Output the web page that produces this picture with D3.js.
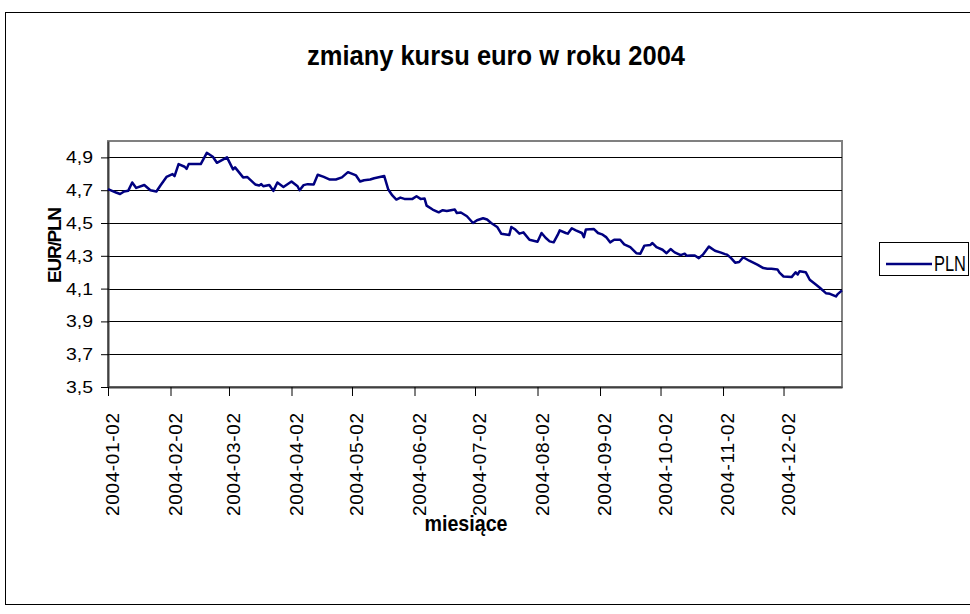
<!DOCTYPE html>
<html>
<head>
<meta charset="utf-8">
<script src="https://cdn.jsdelivr.net/npm/d3@7"></script>
<style>
  body { margin: 0; background: #fff; }
  text { font-family: "Liberation Sans", Arial, sans-serif; }
</style>
</head>
<body>
<div id="line_chart"></div>
<script>
const height = 614,
    width = 970,
    margin = ({ top: 141, right: 128, bottom: 227, left: 108 });

// kurs EUR/PLN
const dates = [
  "2004-01-02","2004-01-04","2004-01-06","2004-01-08","2004-01-10","2004-01-12","2004-01-14","2004-01-16",
  "2004-01-20","2004-01-23","2004-01-26","2004-01-28","2004-01-31","2004-02-03","2004-02-04","2004-02-06",
  "2004-02-09","2004-02-10","2004-02-11","2004-02-17","2004-02-20","2004-02-23","2004-02-25","2004-03-01",
  "2004-03-04","2004-03-05","2004-03-09","2004-03-11","2004-03-15","2004-03-17","2004-03-18","2004-03-19",
  "2004-03-22","2004-03-24","2004-03-26","2004-03-29","2004-04-02","2004-04-05","2004-04-06","2004-04-08",
  "2004-04-10","2004-04-13","2004-04-15","2004-04-18","2004-04-21","2004-04-24","2004-04-27","2004-04-30",
  "2004-05-04","2004-05-06","2004-05-08","2004-05-11","2004-05-13","2004-05-18","2004-05-20","2004-05-22",
  "2004-05-24","2004-05-26","2004-05-28","2004-06-01","2004-06-03","2004-06-05","2004-06-07","2004-06-08",
  "2004-06-11","2004-06-14","2004-06-16","2004-06-18","2004-06-22","2004-06-23","2004-06-25","2004-06-28",
  "2004-07-01","2004-07-03","2004-07-06","2004-07-08","2004-07-10","2004-07-13","2004-07-15","2004-07-19",
  "2004-07-20","2004-07-22","2004-07-24","2004-07-26","2004-07-29","2004-08-02","2004-08-04","2004-08-06",
  "2004-08-08","2004-08-10","2004-08-12","2004-08-13","2004-08-16","2004-08-17","2004-08-19","2004-08-21",
  "2004-08-24","2004-08-25","2004-08-26","2004-08-30","2004-09-01","2004-09-03","2004-09-05","2004-09-07",
  "2004-09-09","2004-09-12","2004-09-14","2004-09-17","2004-09-20","2004-09-22","2004-09-24","2004-09-27",
  "2004-09-28","2004-09-30","2004-10-03","2004-10-05","2004-10-07","2004-10-09","2004-10-12","2004-10-14",
  "2004-10-15","2004-10-17","2004-10-19","2004-10-21","2004-10-23","2004-10-26","2004-10-29","2004-11-01",
  "2004-11-03","2004-11-04","2004-11-06","2004-11-08","2004-11-10","2004-11-12","2004-11-15","2004-11-17",
  "2004-11-19","2004-11-22","2004-11-24","2004-11-26","2004-11-29","2004-11-30","2004-12-02","2004-12-06",
  "2004-12-08","2004-12-09","2004-12-10","2004-12-13","2004-12-15","2004-12-18","2004-12-20","2004-12-23",
  "2004-12-25","2004-12-28","2004-12-29","2004-12-31"
];
const pln = [
  4.706,4.696,4.686,4.677,4.692,4.696,4.747,4.714,
  4.732,4.700,4.692,4.729,4.781,4.798,4.786,4.859,
  4.843,4.830,4.859,4.859,4.928,4.904,4.867,4.900,
  4.827,4.839,4.778,4.781,4.735,4.729,4.737,4.724,
  4.732,4.696,4.747,4.720,4.753,4.724,4.700,4.731,
  4.737,4.735,4.794,4.781,4.765,4.765,4.778,4.810,
  4.790,4.753,4.761,4.765,4.773,4.786,4.704,4.668,
  4.643,4.655,4.647,4.647,4.663,4.647,4.649,4.606,
  4.582,4.565,4.578,4.573,4.582,4.561,4.564,4.541,
  4.500,4.517,4.529,4.521,4.500,4.476,4.435,4.427,
  4.476,4.460,4.435,4.443,4.398,4.386,4.439,4.410,
  4.388,4.382,4.427,4.455,4.439,4.435,4.468,4.455,
  4.439,4.414,4.461,4.463,4.439,4.431,4.414,4.382,
  4.398,4.398,4.370,4.353,4.316,4.313,4.362,4.366,
  4.378,4.353,4.337,4.316,4.341,4.321,4.304,4.313,
  4.300,4.302,4.302,4.286,4.307,4.356,4.331,4.319,
  4.310,4.307,4.286,4.258,4.262,4.291,4.270,4.258,
  4.246,4.225,4.221,4.221,4.217,4.197,4.174,4.170,
  4.200,4.186,4.206,4.200,4.154,4.125,4.105,4.072,
  4.068,4.052,4.068,4.089
];
const xTicks = ["2004-01-02","2004-02-02","2004-03-02","2004-04-02","2004-05-02","2004-06-02",
  "2004-07-02","2004-08-02","2004-09-02","2004-10-02","2004-11-02","2004-12-02"];
const yTicks = [3.5, 3.7, 3.9, 4.1, 4.3, 4.5, 4.7, 4.9];

const parse = d3.utcParse("%Y-%m-%d");
const data = dates.map((d, i) => ({ date: parse(d), value: pln[i] }));

const svg = d3.select("#line_chart")
    .append("svg")
    .attr("width", width)
    .attr("height", height);

// ramka calego wykresu
svg.append("rect")
    .attr("x", 5.5).attr("y", 12.5)
    .attr("width", 980).attr("height", 592)
    .attr("fill", "#fff")
    .attr("stroke", "#000");

let x = d3.scaleUtc()
    .domain([parse("2004-01-02"), parse("2004-12-31")])
    .range([margin.left, width - margin.right]);

let y = d3.scaleLinear()
    .domain([3.5, 5.0])
    .range([height - margin.bottom, margin.top]);

// obszar kreslenia
svg.append("rect")
    .attr("x", margin.left).attr("y", margin.top)
    .attr("width", width - margin.right - margin.left)
    .attr("height", height - margin.bottom - margin.top)
    .attr("fill", "#fff")
    .attr("stroke", "#808080")
    .attr("stroke-width", 2);

// linie siatki
svg.append("g")
    .selectAll("line")
    .data(yTicks.slice(1))
    .join("line")
    .attr("x1", margin.left).attr("x2", width - margin.right)
    .attr("y1", d => Math.round(y(d)) + 0.5).attr("y2", d => Math.round(y(d)) + 0.5)
    .attr("stroke", "#000");

const yAxis = svg.append("g")
    .attr("transform", `translate(${margin.left},0)`)
    .call(d3.axisLeft(y)
      .tickValues(yTicks)
      .tickFormat(d => d3.format(".1f")(d).replace(".", ","))
      .tickSize(6)
      .tickPadding(9)
      .tickSizeOuter(0));
yAxis.select(".domain").attr("stroke", "#404040").attr("stroke-width", 2);
yAxis.selectAll(".tick line").attr("stroke", "#000").attr("x2", -7).attr("x1", 1);
yAxis.selectAll(".tick text")
    .attr("font-size", 17)
    .attr("textLength", 27)
    .attr("lengthAdjust", "spacingAndGlyphs")
    .attr("fill", "#000");

const xAxis = svg.append("g")
    .attr("transform", `translate(0,${height - margin.bottom})`)
    .call(d3.axisBottom(x)
      .tickValues(xTicks.map(parse))
      .tickFormat(d3.utcFormat("%Y-%m-%d"))
      .tickSize(9)
      .tickSizeOuter(0));
xAxis.select(".domain").attr("stroke", "#404040").attr("stroke-width", 2);
xAxis.selectAll(".tick line").attr("stroke", "#000");
xAxis.selectAll(".tick text")
    .attr("transform", "rotate(-90)")
    .attr("text-anchor", "end")
    .attr("x", -26)
    .attr("y", 4)
    .attr("dy", "0.35em")
    .attr("font-size", 19)
    .attr("textLength", 103)
    .attr("lengthAdjust", "spacing")
    .attr("fill", "#000");

let line = d3.line()
    .x(d => x(d.date))
    .y(d => y(d.value));

svg.append("path")
    .datum(data)
    .attr("d", line)
    .attr("fill", "none")
    .attr("stroke", "#000080")
    .attr("stroke-width", 2.5)
    .attr("stroke-linejoin", "round");

// tytul i opisy osi
svg.append("text")
    .attr("x", 496)
    .attr("y", 65)
    .attr("text-anchor", "middle")
    .attr("font-weight", "bold")
    .attr("font-size", 28)
    .attr("textLength", 378)
    .attr("lengthAdjust", "spacingAndGlyphs")
    .text("zmiany kursu euro w roku 2004");

svg.append("text")
    .attr("x", 466)
    .attr("y", 531)
    .attr("text-anchor", "middle")
    .attr("font-weight", "bold")
    .attr("font-size", 22)
    .attr("textLength", 83)
    .attr("lengthAdjust", "spacingAndGlyphs")
    .text("miesiące");

svg.append("text")
    .attr("transform", "rotate(-90)")
    .attr("x", -245)
    .attr("y", 61)
    .attr("text-anchor", "middle")
    .attr("font-weight", "bold")
    .attr("font-size", 19)
    .attr("textLength", 76)
    .attr("lengthAdjust", "spacing")
    .text("EUR/PLN");

// legenda
const legend = svg.append("g");
legend.append("rect")
    .attr("x", 879.5).attr("y", 242.5)
    .attr("width", 89).attr("height", 33)
    .attr("fill", "#fff")
    .attr("stroke", "#000");
legend.append("line")
    .attr("x1", 886).attr("x2", 932)
    .attr("y1", 264).attr("y2", 264)
    .attr("stroke", "#000080")
    .attr("stroke-width", 2.5);
legend.append("text")
    .attr("x", 934)
    .attr("y", 271)
    .attr("font-size", 22)
    .attr("textLength", 32)
    .attr("lengthAdjust", "spacingAndGlyphs")
    .text("PLN");
</script>
</body>
</html>
